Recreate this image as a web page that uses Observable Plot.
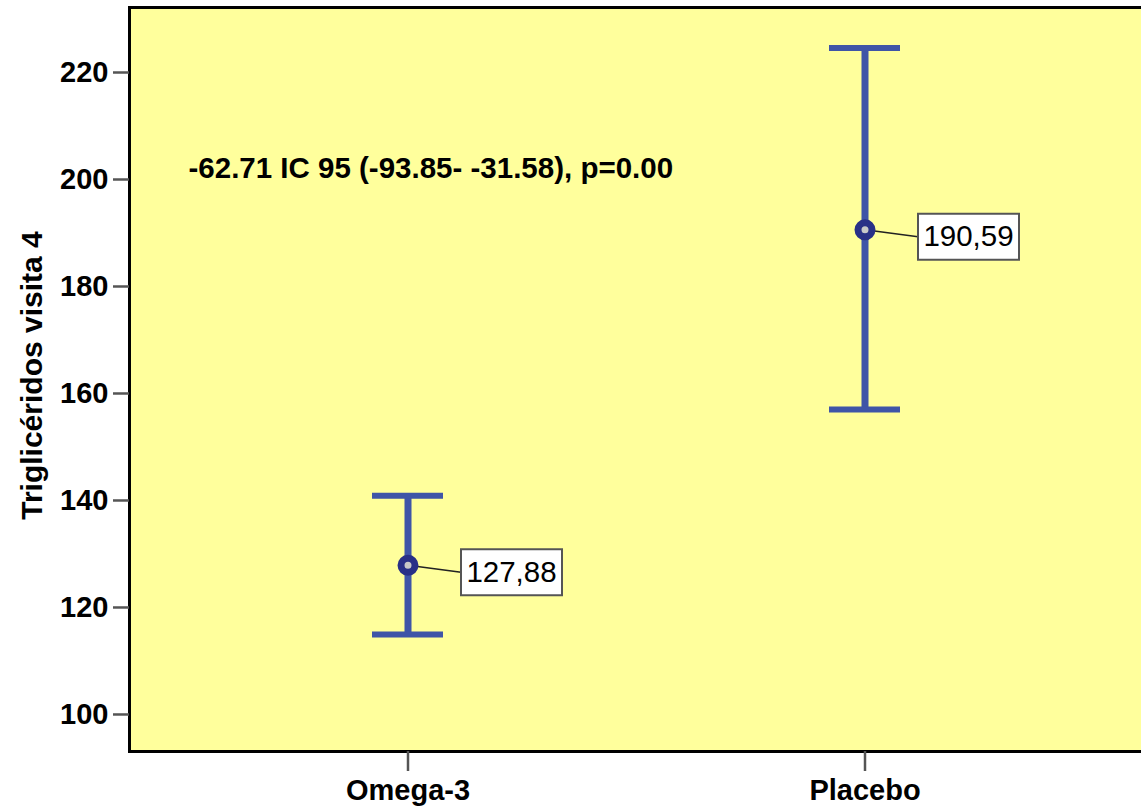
<!DOCTYPE html>
<html>
<head>
<meta charset="utf-8">
<script src="https://cdn.jsdelivr.net/npm/d3@7"></script>
<script src="https://cdn.jsdelivr.net/npm/@observablehq/plot@0.6"></script>
<style>
  html, body { margin: 0; padding: 0; background: white; overflow: hidden; }
</style>
</head>
<body>
<div id="chart"></div>
<script>
const groups = ["Omega-3", "Placebo"];
const means = [127.88, 190.59];
const lower = [114.95, 157.0];
const upper = [140.9, 224.6];
const meanLabels = ["127,88", "190,59"];
const yTicks = [100, 120, 140, 160, 180, 200, 220];
const yLabel = "Triglicéridos visita 4";
const annotation = "-62.71 IC 95 (-93.85- -31.58), p=0.00";
const annotationY = 202;

const rows = groups.map((g, i) => ({group: g, mean: means[i], lo: lower[i], hi: upper[i], label: meanLabels[i]}));

const leader = {draw(ctx) { ctx.moveTo(0, 0); ctx.lineTo(53, 7); }};
const box = {draw(ctx) {
  ctx.moveTo(53, -16); ctx.lineTo(154, -16); ctx.lineTo(154, 30); ctx.lineTo(53, 30); ctx.closePath();
}};

const blue = "#3f55a7";

const chart = Plot.plot({
  width: 1141,
  height: 811,
  marginLeft: 129,
  marginTop: 7,
  marginBottom: 60,
  marginRight: -3,
  style: {fontFamily: "'Liberation Sans', Arial, sans-serif", fontSize: "29px", fontWeight: "bold", color: "black", background: "white"},
  x: {type: "band", domain: groups, paddingInner: 0.8446, paddingOuter: 0.5328},
  y: {domain: [93.08, 232.15]},
  marks: [
    Plot.frame({fill: "#ffff9c", stroke: "black", strokeWidth: 3}),
    Plot.axisY({ticks: yTicks, tickSize: 16, tickPadding: 5, label: null, stroke: "#555", strokeWidth: 2.5, fontSize: 29, fill: "black"}),
    Plot.axisX({tickSize: 20, tickPadding: 8, label: null, stroke: "#555", strokeWidth: 2.5, fontSize: 29, fill: "black"}),
    Plot.ruleX(rows, {x: "group", y1: "lo", y2: "hi", stroke: blue, strokeWidth: 7}),
    Plot.tickY(rows, {x: "group", y: "lo", stroke: blue, strokeWidth: 6}),
    Plot.tickY(rows, {x: "group", y: "hi", stroke: blue, strokeWidth: 6}),
    Plot.dot(rows, {x: "group", y: "mean", symbol: leader, stroke: "#222", strokeWidth: 1.5, fill: "none"}),
    Plot.dot(rows, {x: "group", y: "mean", r: 7, stroke: "#293087", strokeWidth: 7, fill: "#c8c8c8"}),
    Plot.dot(rows, {x: "group", y: "mean", symbol: box, stroke: "#555", strokeWidth: 2, fill: "white"}),
    Plot.text(rows, {x: "group", y: "mean", text: "label", dx: 103.5, dy: 7, fontSize: 29.5, fontWeight: "normal", fill: "black"}),
    Plot.text([annotation], {frameAnchor: "left", y: () => annotationY, dx: 59, textAnchor: "start", fontSize: 29.5, fontWeight: "bold", fill: "black"}),
    Plot.text([yLabel], {frameAnchor: "left", textAnchor: "middle", rotate: -90, dx: -97, dy: -4, fontSize: 30, fontWeight: "bold", fill: "black"})
  ]
});
document.getElementById("chart").appendChild(chart);
</script>
</body>
</html>
